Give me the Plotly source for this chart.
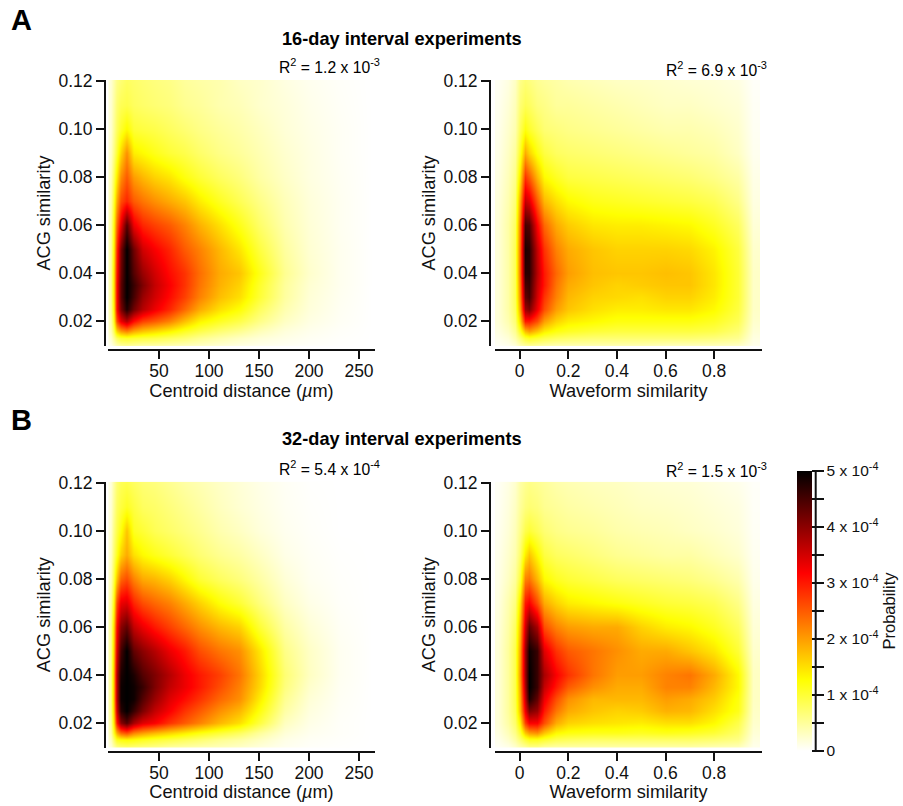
import numpy as np
import plotly.graph_objects as go

# --- data, in units of 1e-4 probability -------------------------------------
acg_levels = [0.010, 0.013, 0.016, 0.020, 0.025, 0.030, 0.035, 0.040,
              0.050, 0.060, 0.070, 0.080, 0.090, 0.100, 0.110, 0.120]
centroid_bins = [1, 4, 7, 11, 17, 24, 33, 45, 60, 75, 90, 110, 130, 150, 175, 200, 230, 262]
waveform_bins = [-0.09, -0.05, -0.02, 0, 0.02, 0.04, 0.07, 0.1, 0.15, 0.2, 0.3, 0.4, 0.5, 0.6, 0.7, 0.8, 0.9, 0.96]

a_centroid = [
    [.1,.25,.4,.5,.55,.5,.45,.45,.4,.35,.3,.22,.15,.1,.06,.03,.01,0],
    [.2,.5,.8,1.0,1.05,1.0,.95,.9,.8,.7,.55,.42,.3,.2,.12,.06,.02,0],
    [.3,.8,1.6,2.0,2.2,1.9,1.7,1.55,1.35,1.1,.9,.7,.55,.35,.18,.09,.03,0],
    [.35,1.1,2.6,3.3,3.7,3.1,2.7,2.5,2.2,1.75,1.35,1.1,.9,.6,.3,.14,.05,0],
    [.4,1.3,3.1,4.1,4.8,4.2,3.7,3.3,2.9,2.4,1.9,1.5,1.25,.8,.4,.18,.06,0],
    [.4,1.4,3.1,4.3,5.0,4.5,3.9,3.5,3.1,2.7,2.2,1.75,1.5,1.0,.48,.2,.07,0],
    [.4,1.4,3.1,4.3,5.0,4.6,4.1,3.6,3.2,2.8,2.3,1.85,1.6,1.05,.5,.22,.08,0],
    [.4,1.4,3.0,4.2,5.0,4.4,3.9,3.5,3.1,2.8,2.35,1.9,1.7,1.15,.55,.25,.08,0],
    [.4,1.3,2.8,4.1,5.0,4.2,3.5,3.2,2.9,2.5,2.2,1.8,1.45,.95,.48,.22,.08,0],
    [.4,1.2,2.4,3.3,4.4,3.3,2.9,2.7,2.5,2.2,1.85,1.5,1.15,.75,.4,.2,.07,0],
    [.35,1.0,1.9,2.6,2.9,2.5,2.3,2.1,1.9,1.7,1.4,1.1,.85,.6,.35,.18,.07,0],
    [.3,.8,1.4,2.1,2.5,2.0,1.8,1.6,1.45,1.2,1.0,.8,.65,.45,.28,.15,.06,0],
    [.25,.6,1.0,1.55,2.1,1.4,1.3,1.15,1.0,.9,.75,.6,.5,.38,.24,.14,.05,0],
    [.2,.5,.8,1.05,1.3,1.0,.95,.9,.8,.7,.6,.5,.42,.32,.2,.12,.05,0],
    [.2,.45,.7,.85,.9,.8,.75,.7,.65,.55,.5,.4,.35,.25,.18,.1,.04,0],
    [.2,.4,.6,.7,.8,.75,.7,.65,.6,.5,.45,.4,.3,.25,.15,.08,.03,0],
]
a_waveform = [
    [.05,.1,.2,.4,.5,.55,.5,.45,.4,.4,.4,.4,.4,.35,.35,.35,.3,.1],
    [.1,.2,.4,.7,1.0,1.1,1.0,.9,.8,.75,.7,.7,.7,.7,.7,.65,.55,.15],
    [.15,.3,.55,1.1,1.8,2.0,1.7,1.4,1.2,1.1,1.0,.95,.95,.95,.95,.9,.7,.2],
    [.2,.4,.7,1.6,3.0,3.0,2.6,2.0,1.6,1.4,1.3,1.2,1.2,1.2,1.2,1.1,.85,.25],
    [.2,.45,.8,2.0,3.9,4.1,3.3,2.6,2.0,1.7,1.5,1.4,1.4,1.45,1.45,1.3,.95,.28],
    [.2,.45,.85,2.2,4.3,4.5,3.5,2.8,2.2,1.8,1.6,1.55,1.5,1.6,1.6,1.4,1.0,.28],
    [.2,.45,.85,2.3,4.5,4.6,3.6,3.0,2.3,1.9,1.7,1.6,1.65,1.7,1.7,1.45,1.0,.28],
    [.2,.45,.85,2.4,4.7,4.7,3.7,3.0,2.4,2.0,1.75,1.7,1.7,1.75,1.7,1.45,1.0,.28],
    [.2,.45,.85,2.4,4.8,4.7,3.6,2.8,2.2,1.9,1.7,1.6,1.6,1.6,1.55,1.35,.95,.25],
    [.2,.45,.8,2.3,4.5,4.4,3.2,2.4,1.9,1.65,1.45,1.4,1.4,1.35,1.3,1.1,.8,.2],
    [.18,.4,.7,2.0,3.6,3.4,2.5,1.8,1.5,1.3,1.15,1.1,1.05,1.0,.95,.85,.6,.15],
    [.15,.35,.6,1.5,2.8,2.5,1.8,1.3,1.1,.95,.9,.85,.8,.75,.7,.6,.45,.12],
    [.12,.3,.5,1.1,1.9,1.6,1.2,.95,.8,.75,.7,.65,.6,.55,.5,.45,.3,.08],
    [.1,.25,.4,.85,1.2,1.05,.85,.7,.65,.6,.55,.5,.45,.4,.4,.35,.25,.06],
    [.08,.2,.35,.7,.85,.8,.65,.6,.5,.5,.45,.4,.35,.3,.3,.25,.2,.05],
    [.06,.15,.3,.6,.7,.65,.55,.5,.45,.4,.35,.3,.28,.25,.22,.2,.15,.03],
]
b_centroid = [
    [.15,.4,.6,.7,.75,.7,.65,.6,.5,.45,.4,.35,.28,.18,.08,.03,.01,0],
    [.25,.7,1.1,1.2,1.25,1.2,1.1,1.0,.9,.8,.7,.55,.45,.3,.12,.05,.02,0],
    [.35,1.1,1.9,2.4,2.6,2.2,2.0,1.8,1.6,1.4,1.2,1.0,.8,.5,.2,.08,.03,0],
    [.4,1.4,3.0,4.0,4.4,3.8,3.4,3.2,2.8,2.5,2.2,1.8,1.5,.95,.32,.12,.03,0],
    [.45,1.6,3.5,4.7,5.0,4.6,4.1,3.6,3.2,2.8,2.5,2.1,1.8,1.2,.45,.16,.04,0],
    [.45,1.7,3.7,4.9,5.0,4.9,4.4,3.9,3.4,3.1,2.8,2.4,2.1,1.4,.55,.2,.05,0],
    [.45,1.7,3.7,4.9,5.0,4.9,4.6,4.1,3.6,3.3,3.0,2.6,2.2,1.55,.65,.25,.06,0],
    [.45,1.7,3.7,4.8,5.0,4.8,4.4,4.1,3.7,3.3,3.0,2.7,2.3,1.6,.7,.3,.07,0],
    [.45,1.6,3.4,4.5,5.0,4.3,4.0,3.7,3.3,3.0,2.6,2.3,2.1,1.45,.6,.28,.07,0],
    [.45,1.5,3.1,4.0,4.3,3.6,3.3,3.0,2.7,2.4,2.1,1.8,1.6,1.0,.45,.2,.05,0],
    [.4,1.2,2.6,3.3,3.4,2.9,2.6,2.4,2.2,1.9,1.6,1.25,1.0,.65,.3,.12,.03,0],
    [.3,.9,1.7,2.4,2.6,2.2,1.9,1.8,1.6,1.3,1.0,.8,.65,.45,.2,.07,.02,0],
    [.25,.7,1.1,1.6,1.9,1.5,1.3,1.15,1.0,.85,.7,.55,.45,.3,.12,.05,.01,0],
    [.2,.6,.9,1.2,1.7,1.1,1.0,.85,.75,.65,.55,.4,.3,.18,.08,.03,0,0],
    [.18,.5,.8,.95,1.1,.95,.8,.75,.65,.55,.45,.32,.22,.14,.06,.02,0,0],
    [.15,.45,.7,.85,.9,.8,.7,.65,.55,.45,.38,.28,.2,.12,.05,.01,0,0],
]
b_waveform = [
    [.05,.12,.25,.4,.5,.6,.6,.5,.45,.45,.45,.45,.45,.45,.45,.4,.35,.1],
    [.1,.25,.45,.7,.95,1.1,1.1,1.0,.85,.8,.75,.75,.75,.75,.75,.7,.6,.15],
    [.15,.35,.6,1.0,1.7,2.0,2.1,1.7,1.3,1.2,1.15,1.15,1.1,1.15,1.1,1.0,.75,.2],
    [.2,.45,.75,1.4,2.7,3.2,3.2,2.6,1.9,1.6,1.5,1.45,1.4,1.5,1.5,1.3,.9,.25],
    [.2,.5,.85,1.8,3.3,4.1,3.9,3.0,2.3,1.9,1.7,1.6,1.65,1.85,1.8,1.5,1.15,.28],
    [.2,.5,.9,1.9,3.6,4.8,4.3,3.3,2.6,2.1,1.8,1.8,1.8,2.0,1.9,1.65,1.2,.3],
    [.2,.5,.9,2.0,3.8,5.0,4.6,3.6,3.0,2.5,2.1,1.9,1.9,2.2,2.2,1.8,1.3,.3],
    [.2,.5,.9,2.1,3.9,5.0,4.6,3.8,3.2,2.8,2.3,2.0,2.0,2.2,2.3,1.9,1.3,.3],
    [.2,.5,.9,2.0,3.9,4.9,4.6,3.4,2.8,2.5,2.3,2.1,1.9,1.9,1.7,1.45,1.0,.25],
    [.18,.45,.8,1.8,3.5,4.3,3.8,2.6,2.2,2.0,1.9,1.9,1.6,1.4,1.3,1.1,.8,.2],
    [.15,.4,.65,1.5,3.0,3.2,2.6,1.9,1.6,1.4,1.3,1.2,1.1,1.0,.95,.85,.6,.15],
    [.12,.3,.5,1.0,2.2,2.3,1.8,1.3,1.1,1.0,.9,.8,.75,.7,.65,.55,.4,.1],
    [.1,.25,.4,.75,1.4,1.7,1.3,.95,.8,.75,.65,.55,.5,.45,.45,.35,.25,.07],
    [.08,.2,.35,.6,.9,1.0,.85,.7,.6,.55,.5,.42,.38,.35,.3,.25,.18,.05],
    [.06,.17,.3,.5,.65,.7,.65,.55,.5,.45,.4,.35,.3,.28,.25,.2,.15,.04],
    [.05,.14,.25,.45,.55,.6,.55,.5,.42,.38,.33,.3,.25,.22,.2,.15,.1,.03],
]

acg_ticks = [0.02, 0.04, 0.06, 0.08, 0.10, 0.12]
acg_ticktext = ["0.02", "0.04", "0.06", "0.08", "0.10", "0.12"]
centroid_ticks = [50, 100, 150, 200, 250]
waveform_ticks = [0, 0.2, 0.4, 0.6, 0.8]
waveform_ticktext = ["0", "0.2", "0.4", "0.6", "0.8"]
colorbar_ticks = [0, .5, 1, 1.5, 2, 2.5, 3, 3.5, 4, 4.5, 5]
colorbar_text = ["0", "", "1 x 10<sup>-4</sup>", "", "2 x 10<sup>-4</sup>", "",
                 "3 x 10<sup>-4</sup>", "", "4 x 10<sup>-4</sup>", "", "5 x 10<sup>-4</sup>"]
r2_labels = ["R<sup>2</sup> = 1.2 x 10<sup>-3</sup>", "R<sup>2</sup> = 6.9 x 10<sup>-3</sup>",
             "R<sup>2</sup> = 5.4 x 10<sup>-4</sup>", "R<sup>2</sup> = 1.5 x 10<sup>-3</sup>"]

# --- layout helpers ----------------------------------------------------------
W, H = 903, 806
FONT = "Liberation Sans, Arial, sans-serif"
INK = "#111111"
px = lambda v: v / W
py = lambda v: 1 - v / H

hot_r = [[0, "#ffffff"], [0.254, "#ffff00"], [0.635, "#ff0000"], [1, "#000000"]]

panels = [
    (a_centroid, centroid_bins, 108, 375, 80, 346, (-1, 266), centroid_ticks, None, "Centroid distance (<i>µ</i>m)", 105, 350),
    (a_waveform, waveform_bins, 495, 762, 80, 346, (-0.1017, 0.997), waveform_ticks, waveform_ticktext, "Waveform similarity", 490, 350),
    (b_centroid, centroid_bins, 108, 375, 481.7, 747.7, (-1, 266), centroid_ticks, None, "Centroid distance (<i>µ</i>m)", 105, 751.5),
    (b_waveform, waveform_bins, 495, 762, 481.7, 747.7, (-0.1017, 0.997), waveform_ticks, waveform_ticktext, "Waveform similarity", 490, 751.5),
]

fig = go.Figure()
layout = dict(
    width=W, height=H, margin=dict(l=0, r=0, t=0, b=0, autoexpand=False),
    paper_bgcolor="white", plot_bgcolor="white", showlegend=False,
    font=dict(family=FONT, size=17, color=INK),
    coloraxis=dict(
        cmin=0, cmax=5, colorscale=hot_r,
        colorbar=dict(
            x=px(797), xanchor="left", xpad=0, ypad=0,
            y=py(751), yanchor="bottom",
            lenmode="pixels", len=279.5,
            thicknessmode="pixels", thickness=15,
            outlinewidth=0, borderwidth=0,
            ticks="outside", ticklen=12, tickwidth=1.5, tickcolor=INK,
            tickmode="array", tickvals=colorbar_ticks, ticktext=colorbar_text,
            tickfont=dict(family=FONT, size=15.5, color=INK),
            title=dict(text="Probability", side="right", font=dict(family=FONT, size=16.5, color=INK)),
        ),
    ),
    annotations=[], shapes=[],
)

for i, (z, xb, l, r, t, b, xr, xt, xtt, xtitle, spine, line) in enumerate(panels):
    n = "" if i == 0 else str(i + 1)
    fig.add_trace(go.Heatmap(x=xb, y=acg_levels, z=z, coloraxis="coloraxis",
                             zsmooth="best", xaxis="x" + n, yaxis="y" + n,
                             hoverinfo="skip"))
    y_tick_12 = t + 1.3
    y_lo = 0.02 - (b - (y_tick_12 + 240)) / 2400
    y_hi = 0.12 + 1.3 / 2400
    layout["xaxis" + n] = dict(
        domain=[px(l), px(r)], range=list(xr), anchor="free", position=py(line),
        showgrid=False, zeroline=False, showline=True, linecolor=INK, linewidth=2,
        ticks="outside", ticklen=8, tickwidth=1.5, tickcolor=INK, ticklabelstandoff=-3,
        tickmode="array", tickvals=xt, ticktext=xtt if xtt else [str(v) for v in xt],
        tickfont=dict(family=FONT, size=17.5, color=INK),
        title=dict(text=xtitle, standoff=0, font=dict(family=FONT, size=18.2, color=INK)),
    )
    layout["yaxis" + n] = dict(
        domain=[py(b), py(t)], range=[y_lo, y_hi], anchor="free", position=px(spine),
        showgrid=False, zeroline=False, showline=True, linecolor=INK, linewidth=2,
        ticks="outside", ticklen=8, tickwidth=1.5, tickcolor=INK,
        tickmode="array", tickvals=acg_ticks, ticktext=acg_ticktext,
        tickfont=dict(family=FONT, size=17.5, color=INK),
        title=dict(text="ACG similarity", standoff=2, font=dict(family=FONT, size=18.2, color=INK)),
    )

def note(text, x, y, size, bold=False, anchor="left"):
    layout["annotations"].append(dict(
        text=f"<b>{text}</b>" if bold else text, x=px(x), y=py(y), xref="paper", yref="paper",
        xanchor=anchor, yanchor="middle", showarrow=False,
        font=dict(family=FONT, size=size, color="#000000"),
    ))

note("A", 9, 20, 29, bold=True)
note("B", 9, 420, 29, bold=True)
note("16-day interval experiments", 402, 39, 18.2, bold=True, anchor="center")
note("32-day interval experiments", 402, 439, 18.2, bold=True, anchor="center")
note(r2_labels[0], 277, 66, 15.7)
note(r2_labels[1], 664, 69, 15.7)
note(r2_labels[2], 277, 468, 15.7)
note(r2_labels[3], 664, 470, 15.7)

layout["shapes"].append(dict(type="line", xref="paper", yref="paper",
                             x0=px(815.7), x1=px(815.7), y0=py(471), y1=py(751.8),
                             line=dict(color=INK, width=2)))

fig.update_layout(**layout)
reset_page = ("document.documentElement.style.margin='0';document.body.style.margin='0';"
              "var g=document.getElementById('{plot_id}');g.style.position='absolute';"
              "g.style.left='0';g.style.top='0';")
fig.write_html("out.html", post_script=reset_page, config={"displayModeBar": False})
